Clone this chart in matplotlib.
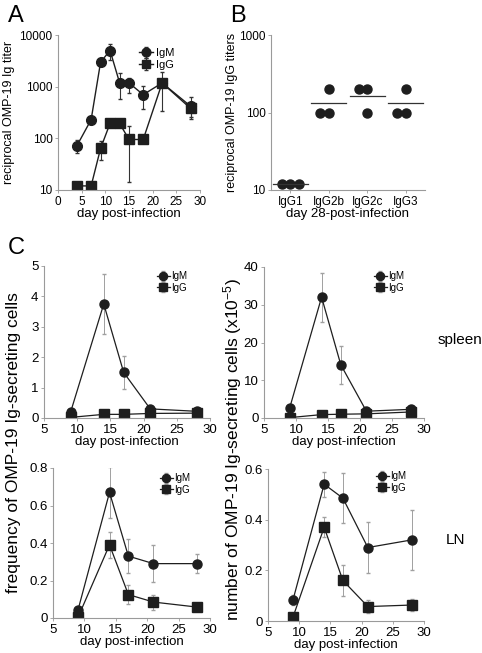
import matplotlib
matplotlib.use("Agg")
import matplotlib.pyplot as plt
from matplotlib.ticker import FixedLocator, NullLocator, FixedFormatter

plt.rcParams['font.family'] = ['Liberation Sans', 'DejaVu Sans']
plt.rcParams['mathtext.fontset'] = 'custom'
plt.rcParams['mathtext.rm'] = 'Liberation Sans'
plt.rcParams['mathtext.default'] = 'rm'

# ---- panel A: serum titers ----
a_days_igm = [4, 7, 9, 11, 13, 15, 18, 22, 28]
a_igm = [72, 230, 3000, 5000, 1200, 1180, 700, 1180, 420]
a_igm_lo = [53, 230, 3000, 3300, 570, 760, 365, 1180, 262]
a_igm_hi = [93, 230, 3000, 6800, 1850, 1500, 1050, 1180, 620]
a_days_igg = [4, 7, 9, 11, 13, 15, 18, 22, 28]
a_igg = [12, 12, 64, 195, 195, 95, 95, 1180, 380]
a_igg_lo = [12, 12, 38, 195, 195, 14, 95, 340, 235]
a_igg_hi = [12, 12, 90, 195, 195, 175, 95, 1900, 380]

# ---- panel B: IgG subclasses at day 28 ----
b_classes = ['IgG1', 'IgG2b', 'IgG2c', 'IgG3']
b_points = [[12, 12, 12], [100, 100, 200], [200, 200, 100], [100, 100, 200]]
b_offsets = [[-0.22, 0, 0.22], [-0.22, 0, 0], [-0.22, 0, 0], [-0.22, 0, 0]]
b_means = [12, 132, 165, 132]

# ---- panel C ----
c_days = [9, 14, 17, 21, 28]
freq_spleen_igm = [0.19, 3.75, 1.5, 0.3, 0.22]
freq_spleen_igm_err = [0, 1.0, 0.55, 0, 0]
freq_spleen_igg = [0.02, 0.12, 0.12, 0.15, 0.16]
num_spleen_igm = [2.6, 32.0, 14.1, 1.8, 2.3]
num_spleen_igm_err = [0, 6.5, 5.0, 0, 0]
num_spleen_igg = [0.1, 0.9, 1.0, 1.1, 1.6]
freq_ln_igm = [0.045, 0.67, 0.33, 0.29, 0.29]
freq_ln_igm_err = [0, 0.135, 0.09, 0.1, 0.05]
freq_ln_igg = [0.005, 0.39, 0.125, 0.085, 0.058]
freq_ln_igg_err = [0, 0.07, 0.05, 0.04, 0]
num_ln_igm = [0.083, 0.54, 0.485, 0.29, 0.32]
num_ln_igm_err = [0.02, 0.05, 0.1, 0.1, 0.12]
num_ln_igg = [0.015, 0.37, 0.16, 0.057, 0.063]
num_ln_igg_err = [0, 0.04, 0.063, 0.024, 0.023]

W, H = 482, 653
fig = plt.figure(figsize=(W / 100, H / 100), dpi=100)

dark = '#1e1e1e'
spine_col = '#9a9a9a'


def add_axes(left, top, right, bottom):
    return fig.add_axes([left / W, 1 - bottom / H, (right - left) / W, (bottom - top) / H])


def style(ax, fs=8.5):
    for s in ['top', 'right']:
        ax.spines[s].set_visible(False)
    for s in ['left', 'bottom']:
        ax.spines[s].set_color(spine_col)
        ax.spines[s].set_linewidth(0.8)
    ax.tick_params(length=2.5, width=0.6, color=spine_col, labelsize=fs, pad=1.5)


def legend(ax, x, y, fs=7):
    fig.legend(handles=ax.get_legend_handles_labels()[0], labels=['IgM', 'IgG'],
               loc='center left', bbox_to_anchor=(x / W, 1 - y / H), frameon=False,
               fontsize=fs, handlelength=1.3, handletextpad=0.2, labelspacing=0.15,
               borderpad=0, borderaxespad=0, markerscale=0.9)


# panel A
axA = add_axes(58, 35, 200, 190)
style(axA)
axA.errorbar(a_days_igm, a_igm,
             yerr=[[m - l for m, l in zip(a_igm, a_igm_lo)], [h - m for m, h in zip(a_igm, a_igm_hi)]],
             color=dark, marker='o', ms=7, lw=1, ecolor='#333333', elinewidth=0.8, capsize=1.5, label='IgM')
axA.errorbar(a_days_igg, a_igg,
             yerr=[[m - l for m, l in zip(a_igg, a_igg_lo)], [h - m for m, h in zip(a_igg, a_igg_hi)]],
             color=dark, marker='s', ms=7, lw=1, ecolor='#333333', elinewidth=0.8, capsize=1.5, label='IgG')
axA.set_yscale('log')
axA.set_ylim(10, 10000)
axA.set_xlim(0, 30)
axA.yaxis.set_major_locator(FixedLocator([10, 100, 1000, 10000]))
axA.yaxis.set_major_formatter(FixedFormatter(['10', '100', '1000', '10000']))
axA.yaxis.set_minor_locator(NullLocator())
axA.set_xticks([0, 5, 10, 15, 20, 25, 30])
axA.set_xlabel('day post-infection', fontsize=9.5, labelpad=0)
axA.set_ylabel('reciprocal OMP-19 Ig titer', fontsize=9, labelpad=3)
legend(axA, 139, 59, fs=8)

# panel B
axB = add_axes(271, 35, 425, 190)
style(axB)
for i, (pts, offs, mean) in enumerate(zip(b_points, b_offsets, b_means)):
    axB.plot([i + 1 + o for o in offs], pts, 'o', color=dark, ms=6.5, ls='none')
    axB.plot([i + 1 - 0.46, i + 1 + 0.46], [mean, mean], color='#333333', lw=0.9)
axB.set_yscale('log')
axB.set_ylim(10, 1000)
axB.set_xlim(0.5, 4.5)
axB.yaxis.set_major_locator(FixedLocator([10, 100, 1000]))
axB.yaxis.set_major_formatter(FixedFormatter(['10', '100', '1000']))
axB.yaxis.set_minor_locator(NullLocator())
axB.set_xticks([1, 2, 3, 4])
axB.set_xticklabels(b_classes)
axB.set_xlabel('day 28-post-infection', fontsize=9.5, labelpad=0)
axB.set_ylabel('reciprocal OMP-19 IgG titers', fontsize=9, labelpad=1)


def panel_c(ax, igm, igm_err, igg, igg_err, ylim, yticks, yticklabels):
    style(ax, fs=9.5)
    ax.errorbar(c_days, igm, yerr=igm_err, color=dark, marker='o', ms=6.5, lw=0.9,
                ecolor='#a0a0a0', elinewidth=0.7, capsize=1.5, label='IgM')
    ax.errorbar(c_days, igg, yerr=igg_err, color=dark, marker='s', ms=6.5, lw=0.9,
                ecolor='#a0a0a0', elinewidth=0.7, capsize=1.5, label='IgG')
    ax.set_xlim(5, 30)
    ax.set_ylim(*ylim)
    ax.set_xticks([5, 10, 15, 20, 25, 30])
    ax.set_yticks(yticks)
    ax.set_yticklabels(yticklabels)
    ax.set_xlabel('day post-infection', fontsize=9.5, labelpad=0)


axC1 = add_axes(44, 266, 210, 418)
panel_c(axC1, freq_spleen_igm, freq_spleen_igm_err, freq_spleen_igg, [0] * 5,
        (0, 5), [0, 1, 2, 3, 4, 5], ['0', '1', '2', '3', '4', '5'])
legend(axC1, 157, 282)

axC2 = add_axes(264, 267, 424, 418)
panel_c(axC2, num_spleen_igm, num_spleen_igm_err, num_spleen_igg, [0] * 5,
        (0, 40), [0, 10, 20, 30, 40], ['0', '10', '20', '30', '40'])
legend(axC2, 374, 282)

axC3 = add_axes(53, 468, 210, 618)
panel_c(axC3, freq_ln_igm, freq_ln_igm_err, freq_ln_igg, freq_ln_igg_err,
        (0, 0.8), [0, 0.2, 0.4, 0.6, 0.8], ['0', '0.2', '0.4', '0.6', '0.8'])
legend(axC3, 160, 484)

axC4 = add_axes(268, 469, 424, 621)
panel_c(axC4, num_ln_igm, num_ln_igm_err, num_ln_igg, num_ln_igg_err,
        (0, 0.6), [0, 0.2, 0.4, 0.6], ['0', '0.2', '0.4', '0.6'])
legend(axC4, 376, 482)

# shared labels
fig.text(14 / W, 1 - 443 / H, 'frequency of OMP-19 Ig-secreting cells', rotation=90,
         ha='center', va='center', fontsize=12.5)
fig.text(233 / W, 1 - 450 / H, 'number of OMP-19 Ig-secreting cells (x10$^{-5}$)', rotation=90,
         ha='center', va='center', fontsize=12.5)
fig.text(438 / W, 1 - 340 / H, 'spleen', ha='left', va='center', fontsize=11)
fig.text(446 / W, 1 - 540 / H, 'LN', ha='left', va='center', fontsize=11)

for lab, x, y in [('A', 8, 16), ('B', 230, 16), ('C', 8, 248)]:
    fig.text(x / W, 1 - y / H, lab, ha='left', va='center', fontsize=17)

fig.savefig('out.png', dpi=100)
